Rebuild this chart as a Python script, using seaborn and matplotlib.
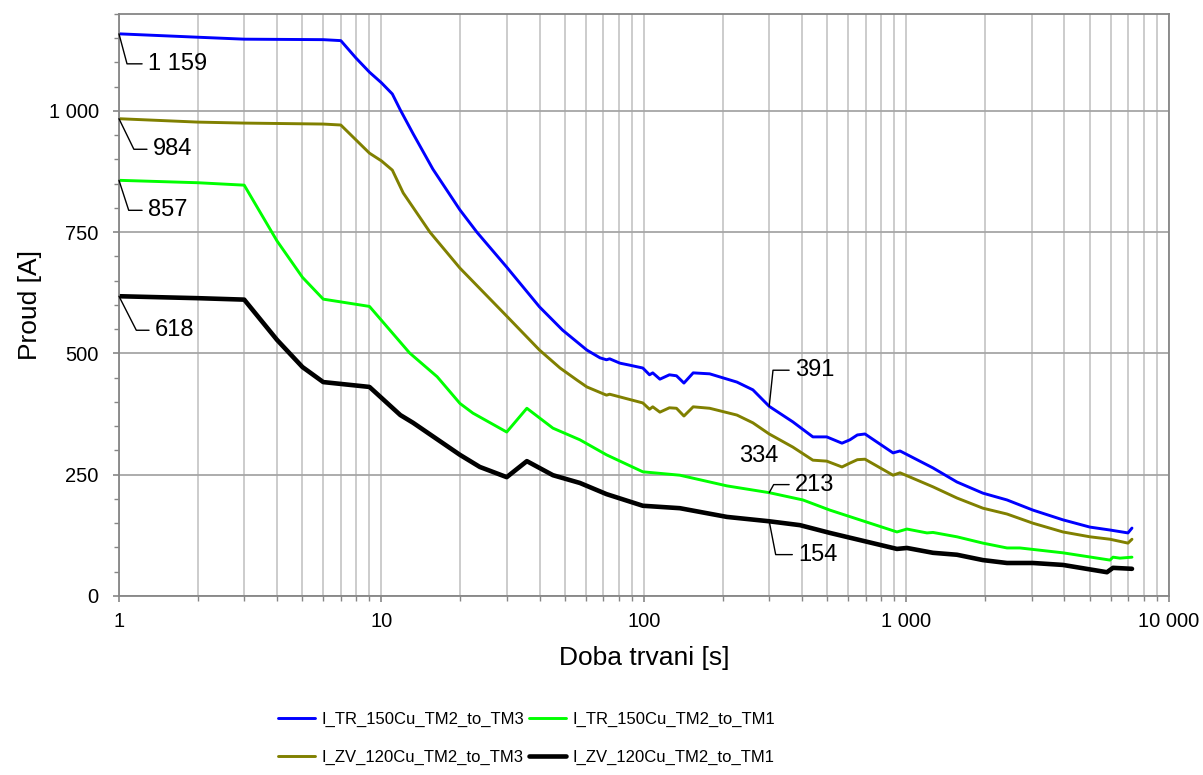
import numpy as np
import seaborn as sns
import matplotlib.pyplot as plt
from matplotlib.ticker import MultipleLocator, LogLocator, FuncFormatter, NullFormatter, FixedLocator

# I_TR_150Cu_TM2_to_TM3
tr_tm3_x = [1, 2, 3, 6, 7, 8, 9, 10, 11, 11.8, 13.2, 15.7, 19.9, 23.1, 30, 40, 49, 60.6, 68, 72,
            74, 81, 88, 99, 105, 108, 115, 125, 133, 142, 154, 178, 226, 260, 300, 369, 440, 497, 568, 609,
            650, 695, 889, 945, 1262, 1557, 1955, 2415, 3034, 3945, 5000, 5960, 6980, 7230]
tr_tm3_y = [1159, 1152, 1148, 1147, 1145, 1109, 1080, 1058, 1035, 1002, 953, 880, 796, 750, 678, 596, 548, 507, 491, 487,
            489, 480, 476, 470, 456, 460, 447, 456, 454, 439, 460, 458, 441, 425, 391, 359, 328, 328, 315, 322,
            332, 334, 295, 299, 264, 235, 212, 198, 177, 157, 142, 136, 130, 140]

# I_ZV_120Cu_TM2_to_TM3
zv_tm3_x = [1, 2, 3, 6, 7, 9, 10, 11, 12.1, 15.3, 19.9, 30, 40, 47.9, 55.6, 60.6, 72, 74, 99, 105,
            108, 115, 125, 133, 142, 154, 178, 226, 260, 300, 369, 440, 497, 568, 609, 650, 695, 889, 945, 1262,
            1557, 1955, 2415, 3034, 3945, 5000, 5960, 6980, 7230]
zv_tm3_y = [984, 977, 975, 973, 971, 913, 897, 878, 831, 750, 676, 577, 507, 470, 445, 431, 414, 416, 398, 385,
            390, 379, 388, 387, 371, 390, 387, 373, 357, 334, 307, 280, 278, 266, 274, 281, 282, 249, 254, 225,
            202, 181, 169, 150, 132, 122, 117, 109, 117]

# I_TR_150Cu_TM2_to_TM1
tr_tm1_x = [1, 2, 3, 4, 5, 6, 9, 12.8, 16.3, 19.9, 22.3, 30, 35.8, 45, 57, 72, 99, 137, 207, 300,
            403, 511, 920, 1004, 1197, 1262, 1557, 1955, 2415, 2705, 3945, 5960, 6120, 6505, 7230]
tr_tm1_y = [857, 852, 847, 732, 657, 612, 597, 501, 452, 397, 377, 338, 387, 346, 322, 291, 256, 249, 227, 213,
            198, 177, 132, 138, 130, 131, 122, 109, 99, 99, 89, 74, 80, 78, 80]

# I_ZV_120Cu_TM2_to_TM1
zv_tm1_x = [1, 2, 3, 4, 5, 6, 9, 11.8, 13.2, 19.9, 23.7, 30, 35.8, 45, 57, 72, 99, 137, 207, 300,
            393, 511, 920, 1004, 1262, 1557, 1955, 2415, 3034, 3945, 5805, 6120, 7230]
zv_tm1_y = [618, 614, 611, 528, 472, 441, 431, 373, 357, 291, 266, 245, 278, 249, 233, 210, 186, 181, 163, 154,
            146, 130, 97, 99, 89, 85, 74, 68, 68, 64, 49, 58, 56]

names = ["I_TR_150Cu_TM2_to_TM3", "I_ZV_120Cu_TM2_to_TM3",
         "I_TR_150Cu_TM2_to_TM1", "I_ZV_120Cu_TM2_to_TM1"]
colors = ["#0000ff", "#808000", "#00ff00", "#000000"]
widths = [2.1, 2.1, 2.1, 3.3]

sns.set_style("white")
plt.rcParams['font.family'] = ['Liberation Sans', 'DejaVu Sans']
plt.rcParams['text.color'] = 'black'
plt.rcParams['axes.labelcolor'] = 'black'

fig, ax = plt.subplots(figsize=(12.03, 7.75), dpi=100)
fig.subplots_adjust(left=0.0989, right=0.9717, top=0.982, bottom=0.231)

data = [(tr_tm3_x, tr_tm3_y), (zv_tm3_x, zv_tm3_y), (tr_tm1_x, tr_tm1_y), (zv_tm1_x, zv_tm1_y)]
for (x, y), name, c, lw in zip(data, names, colors, widths):
    sns.lineplot(x=x, y=y, color=c, linewidth=lw, label=name, estimator=None, ax=ax)

ax.set_xscale("log")
ax.set_xlim(1, 10000)
ax.set_ylim(0, 1200)

def fmt(v, pos):
    return f"{v:,.0f}".replace(",", " ")

ax.xaxis.set_major_locator(FixedLocator([1, 10, 100, 1000, 10000]))
ax.xaxis.set_minor_locator(LogLocator(base=10, subs=np.arange(2, 10)))
ax.xaxis.set_major_formatter(FuncFormatter(fmt))
ax.xaxis.set_minor_formatter(NullFormatter())
ax.yaxis.set_major_locator(MultipleLocator(250))
ax.yaxis.set_minor_locator(MultipleLocator(50))
ax.yaxis.set_major_formatter(FuncFormatter(fmt))

ax.grid(which="major", axis="y", color="#a6a6a6", lw=1.3)
ax.grid(which="both", axis="x", color="#c8c8c8", lw=1.3)
for s in ax.spines.values():
    s.set_color("#868686")
    s.set_linewidth(1.3)

ax.tick_params(which="major", direction="out", length=4.5, width=1.2, color="#868686",
               labelsize=14.5, labelcolor="black")
ax.tick_params(which="minor", direction="out", length=3.5, width=1.0, color="#868686")
ax.tick_params(axis="y", which="major", pad=10)
ax.tick_params(axis="x", which="major", pad=7)
ax.tick_params(left=True, bottom=True, which="both")

ax.set_xlabel("Doba trvani [s]", fontsize=19, labelpad=11, color="black")
ax.set_ylabel("Proud [A]", fontsize=19, labelpad=5, color="black")

# data labels
ann = dict(fontsize=17, ha="left", va="center", color="black")
lead = dict(arrowstyle="-", color="black", lw=1.0, shrinkB=0)
starts = [(tr_tm3_x[0], tr_tm3_y[0], (21, -21.6), -75),
          (zv_tm3_x[0], zv_tm3_y[0], (24.5, -22), -64),
          (tr_tm1_x[0], tr_tm1_y[0], (21, -21.6), -72),
          (zv_tm1_x[0], zv_tm1_y[0], (26, -24.5), -63)]
for x0, y0, off, ang in starts:
    ax.annotate(fmt(y0, None), xy=(x0, y0), xytext=off, textcoords="offset points",
                arrowprops=dict(connectionstyle=f"angle,angleA=0,angleB={ang},rad=0", **lead),
                annotation_clip=False, **ann)

i3 = tr_tm3_x.index(300)
ax.annotate(fmt(tr_tm3_y[i3], None), xy=(300, tr_tm3_y[i3]), xytext=(18.7, 26), textcoords="offset points",
            arrowprops=dict(connectionstyle="angle,angleA=0,angleB=84,rad=0", **lead), **ann)
i3 = zv_tm3_x.index(300)
ax.annotate(fmt(zv_tm3_y[i3], None), xy=(300, zv_tm3_y[i3]), xytext=(-22, -16), textcoords="offset points", **ann)
i1 = tr_tm1_x.index(300)
ax.annotate(fmt(tr_tm1_y[i1], None), xy=(300, tr_tm1_y[i1]), xytext=(18.7, 5.8), textcoords="offset points",
            arrowprops=dict(connectionstyle="angle,angleA=0,angleB=61,rad=0", **lead), **ann)
i1 = zv_tm1_x.index(300)
ax.annotate(fmt(zv_tm1_y[i1], None), xy=(300, zv_tm1_y[i1]), xytext=(21, -24), textcoords="offset points",
            arrowprops=dict(connectionstyle="angle,angleA=0,angleB=-79,rad=0", **lead), **ann)

handles, labels = ax.get_legend_handles_labels()
ax.get_legend().remove()
leg = fig.legend(handles, labels, ncol=2, loc="center left", bbox_to_anchor=(0.231, 0.047),
                 frameon=False, fontsize=12, handlelength=2.2, handletextpad=0.4,
                 columnspacing=0.3, labelspacing=1.35, borderpad=0, borderaxespad=0)
for t in leg.get_texts():
    t.set_color("black")

fig.savefig("out.png", dpi=100)
